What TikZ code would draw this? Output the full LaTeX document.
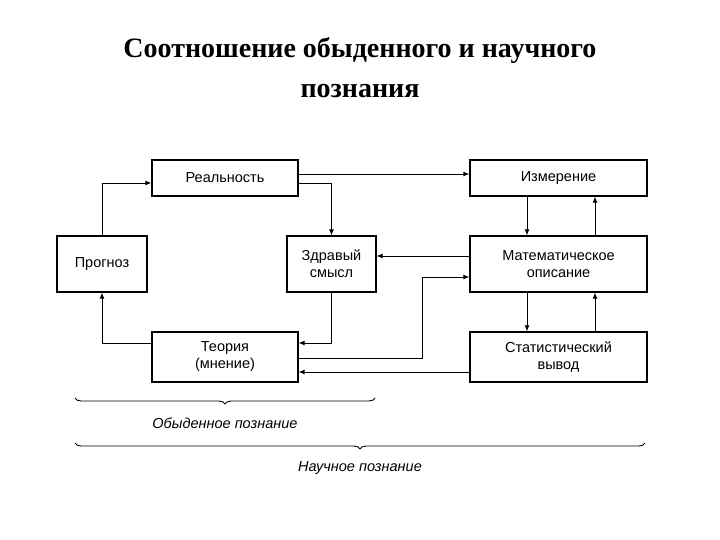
\documentclass[tikz,border=0pt]{standalone}
\usepackage{fontspec}
\setmainfont{Liberation Sans}
\newfontfamily\titlefont{Liberation Serif}
\usetikzlibrary{arrows.meta,decorations.pathreplacing}
\begin{document}
\begin{tikzpicture}[x=1pt,y=-1pt,
  box/.style={draw,line width=1.3pt,align=center,font=\fontsize{14.5}{17}\selectfont,inner sep=0pt},
  ar/.style={-{Latex[length=6pt,width=5pt]},line width=0.9pt},
  br/.style={decorate,decoration={brace,amplitude=6pt},line width=0.9pt}]
\useasboundingbox (0,0) rectangle (720,540);
\node[font=\titlefont\bfseries\fontsize{28}{40}\selectfont,align=center] (title) at (360,68) {Соотношение обыденного и научного\\познания};
\node[box,minimum width=146pt,minimum height=36pt] (real) at (225,178) {Реальность};
\node[box,minimum width=90pt,minimum height=56pt] (prog) at (102,264) {Прогноз};
\node[box,minimum width=89pt,minimum height=56pt] (zdr) at (331.5,264) {Здравый\\смысл};
\node[box,minimum width=146pt,minimum height=50pt] (teo) at (225,357) {Теория\\(мнение)};
\node[box,minimum width=177pt,minimum height=36pt] (izm) at (558.5,178) {Измерение};
\node[box,minimum width=177pt,minimum height=56pt] (mat) at (558.5,264) {Математическое\\описание};
\node[box,minimum width=177pt,minimum height=50pt] (stat) at (558.5,357) {Статистический\\вывод};
\draw[ar] (prog.north) |- (real.west |- 0,183);
\draw[ar] (real.east |- 0,174) -- (izm.west |- 0,174);
\draw[ar] (real.east |- 0,183) -| (zdr.north);
\draw[ar] (zdr.south) |- (teo.east |- 0,343);
\draw[ar] (teo.west |- 0,343) -| (prog.south);
\draw[ar] (teo.east |- 0,358) -| (422,277) -- (mat.west |- 0,277);
\draw[ar] (stat.west |- 0,372) -- (teo.east |- 0,372);
\draw[ar] (mat.west |- 0,256) -- (zdr.east |- 0,256);
\draw[ar] (izm.south -| 527,0) -- (mat.north -| 527,0);
\draw[ar] (mat.north -| 595,0) -- (izm.south -| 595,0);
\draw[ar] (mat.south -| 527,0) -- (stat.north -| 527,0);
\draw[ar] (stat.north -| 595,0) -- (mat.south -| 595,0);
\coordinate (b1a) at (75,398); \coordinate (b1b) at (375,398);
\coordinate (b2a) at (75,443); \coordinate (b2b) at (645,443);
\draw[br] (b1b) -- (b1a);
\draw[br] (b2b) -- (b2a);
\node[font=\itshape\fontsize{14.5}{17}\selectfont] (l1) at (225,423) {Обыденное познание};
\node[font=\itshape\fontsize{14.5}{17}\selectfont] (l2) at (360,468) {Научное познание};
\end{tikzpicture}
\end{document}
